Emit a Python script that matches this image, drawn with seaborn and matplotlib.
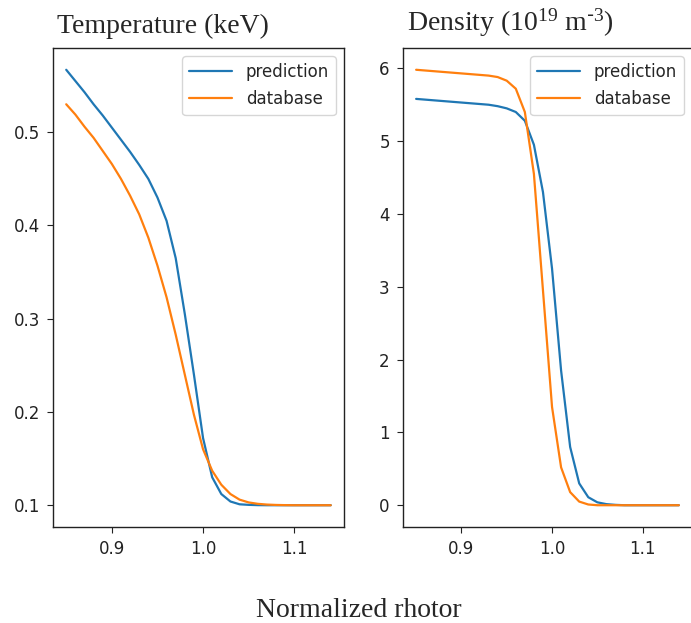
import numpy as np
import pandas as pd
import seaborn as sns
import matplotlib
matplotlib.use("Agg")
import matplotlib.pyplot as plt

# ---- data ----
rho = [0.85, 0.86, 0.87, 0.88, 0.89, 0.90, 0.91, 0.92, 0.93, 0.94,
       0.95, 0.96, 0.97, 0.98, 0.99, 1.00, 1.01, 1.02, 1.03, 1.04,
       1.05, 1.06, 1.07, 1.08, 1.09, 1.10, 1.11, 1.12, 1.13, 1.14]

temp_prediction = [0.567, 0.555, 0.543, 0.530, 0.518, 0.505, 0.492, 0.479, 0.465, 0.450,
                   0.430, 0.405, 0.365, 0.305, 0.240, 0.172, 0.130, 0.112, 0.104, 0.101,
                   0.1004, 0.1001, 0.1, 0.1, 0.1, 0.1, 0.1, 0.1, 0.1, 0.1]
temp_database = [0.530, 0.519, 0.506, 0.494, 0.480, 0.466, 0.450, 0.432, 0.412, 0.387,
                 0.357, 0.323, 0.283, 0.240, 0.197, 0.160, 0.137, 0.122, 0.112, 0.106,
                 0.103, 0.1015, 0.1007, 0.1003, 0.1001, 0.1, 0.1, 0.1, 0.1, 0.1]

dens_prediction = [5.58, 5.57, 5.56, 5.55, 5.54, 5.53, 5.52, 5.51, 5.50, 5.48,
                   5.45, 5.40, 5.28, 4.95, 4.30, 3.25, 1.85, 0.80, 0.30, 0.11,
                   0.04, 0.015, 0.005, 0.0, 0.0, 0.0, 0.0, 0.0, 0.0, 0.0]
dens_database = [5.98, 5.97, 5.96, 5.95, 5.94, 5.93, 5.92, 5.91, 5.90, 5.88,
                 5.83, 5.72, 5.40, 4.55, 2.95, 1.35, 0.52, 0.18, 0.05, 0.01,
                 0.0, 0.0, 0.0, 0.0, 0.0, 0.0, 0.0, 0.0, 0.0, 0.0]

series_names = ["prediction", "database"]
temp_ticks = [0.1, 0.2, 0.3, 0.4, 0.5]
dens_ticks = [0, 1, 2, 3, 4, 5, 6]
x_ticks = [0.9, 1.0, 1.1]

sns.set_style("ticks")
plt.rcParams["font.family"] = ["DejaVu Sans"]
plt.rcParams["axes.edgecolor"] = "#222222"
plt.rcParams["mathtext.default"] = "regular"

W, H = 691, 623
fig = plt.figure(figsize=(W / 100, H / 100), dpi=100)

def px_axes(x0, x1, y0, y1):
    return fig.add_axes([x0 / W, 1 - y1 / H, (x1 - x0) / W, (y1 - y0) / H])

ax1 = px_axes(53, 344, 48, 527)
ax2 = px_axes(403, 692, 48, 527)

colors = ["#1f77b4", "#ff7f0e"]

for ax, ys, yt in [(ax1, [temp_prediction, temp_database], temp_ticks),
                   (ax2, [dens_prediction, dens_database], dens_ticks)]:
    for name, y, c in zip(series_names, ys, colors):
        sns.lineplot(x=rho, y=y, ax=ax, color=c, label=name, linewidth=1.6)
    ax.set_xticks(x_ticks)
    ax.set_xticklabels(["0.9", "1.0", "1.1"])
    ax.set_yticks(yt)
    ax.set_xlabel("")
    ax.set_ylabel("")
    ax.tick_params(labelsize=12, colors="#222222", length=4.5, pad=5)
    for s in ax.spines.values():
        s.set_visible(True)
        s.set_linewidth(1.0)
    ax.legend(loc="upper right", fontsize=12, framealpha=0.8, edgecolor="#cccccc",
              handlelength=2.6, labelspacing=0.55)

ax1.set_yticklabels([f"{t:.1f}" for t in temp_ticks])
ax2.set_yticklabels([str(t) for t in dens_ticks])

serif = ["Liberation Serif", "DejaVu Serif"]
fig.text(57 / W, 1 - 33 / H, "Temperature (keV)", family=serif, fontsize=20,
         ha="left", va="baseline")
fig.text(407 / W, 1 - 31 / H, r"Density (10$^{19}$ m$^{\text{-}3}$)", family=serif,
         fontsize=20, ha="left", va="baseline")
fig.text(359 / W, 1 - 617 / H, "Normalized rhotor", family=serif, fontsize=20,
         ha="center", va="baseline")

fig.savefig("out.png", dpi=100)
